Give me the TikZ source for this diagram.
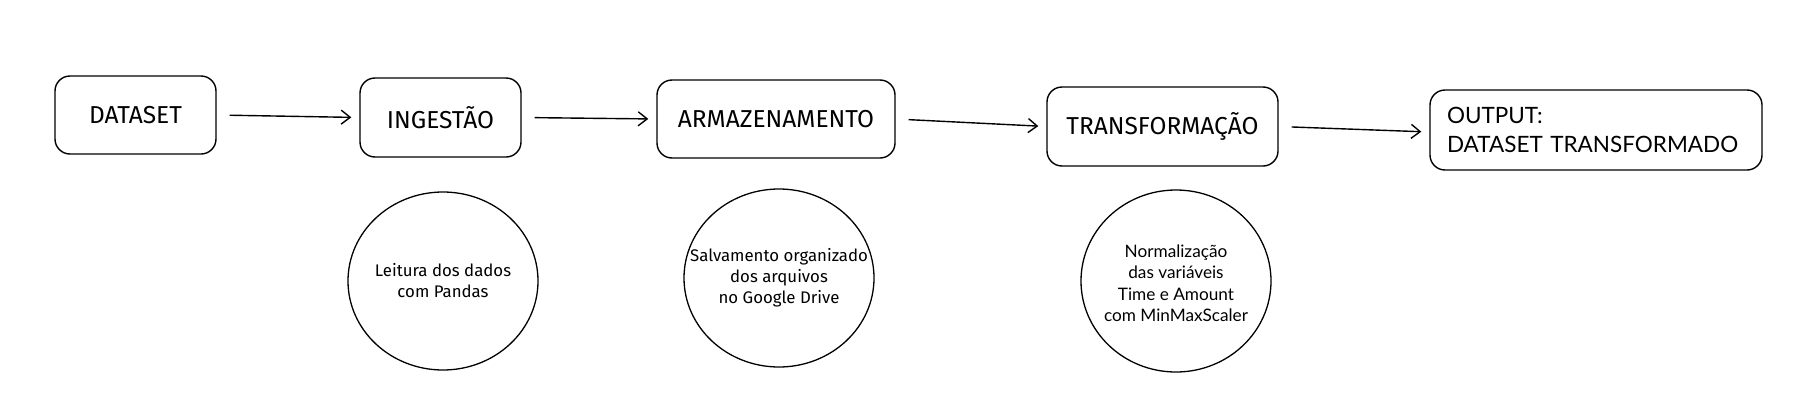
\documentclass[tikz,border=0pt]{standalone}
\usepackage{fontspec}
\usetikzlibrary{shapes.geometric,arrows.meta}
\newfontfamily\dinfont{Fira Sans}
\newfontfamily\rndfont{Lato}
\begin{document}
\begin{tikzpicture}[x=1pt,y=-1pt,
  stagebox/.style={draw, line width=1.4pt, rounded corners=15pt, inner sep=0pt, font=\dinfont\fontsize{24.5}{28}\selectfont},
  notecirc/.style={draw, ellipse, line width=1.3pt, inner sep=0pt, minimum width=190pt},
  notetext/.style={align=center, inner sep=0pt, font=\dinfont\fontsize{16.8}{21}\selectfont},
  flow/.style={-{Straight Barb[length=9pt,width=14pt]}, line width=1.4pt, shorten <=13pt, shorten >=8pt}]
\useasboundingbox (0,0) rectangle (1799,410);
\node[stagebox, minimum width=161pt, minimum height=78pt] (ds) at (135.5,115) {DATASET};
\node[stagebox, minimum width=161pt, minimum height=79pt] (ing) at (440.5,117.5) {INGESTÃO};
\node[stagebox, minimum width=238pt, minimum height=78pt] (arm) at (776,119) {ARMAZENAMENTO};
\node[stagebox, minimum width=231pt, minimum height=79pt] (tr) at (1162.5,126.5) {TRANSFORMAÇÃO};
\node[stagebox, minimum width=332pt, minimum height=80pt, align=left, text width=298pt, font=\rndfont\fontsize{22.5}{29}\selectfont] (out) at (1596,130) {OUTPUT:\\DATASET TRANSFORMADO};
\draw[flow] (ds.east) -- (ing.west);
\draw[flow] (ing.east) -- (arm.west);
\draw[flow] (arm.east) -- (tr.west);
\draw[flow] (tr.east) -- ([yshift=-2pt]out.west);
\node[notecirc, minimum height=178pt] (c1) at (443,281) {};
\node[notetext] (t1) at (c1.center) {Leitura dos dados\\com Pandas};
\node[notecirc, minimum height=178pt] (c2) at (779,278) {};
\node[notetext] (t2) at (c2.center) {Salvamento organizado\\dos arquivos\\no Google Drive};
\node[notecirc, minimum height=182pt] (c3) at (1176,281) {};
\node[notetext, font=\rndfont\fontsize{17.2}{21.5}\selectfont] (t3) at ([yshift=-2pt]c3.center) {Normalização\\das variáveis\\Time e Amount\\com MinMaxScaler};
\end{tikzpicture}
\end{document}
